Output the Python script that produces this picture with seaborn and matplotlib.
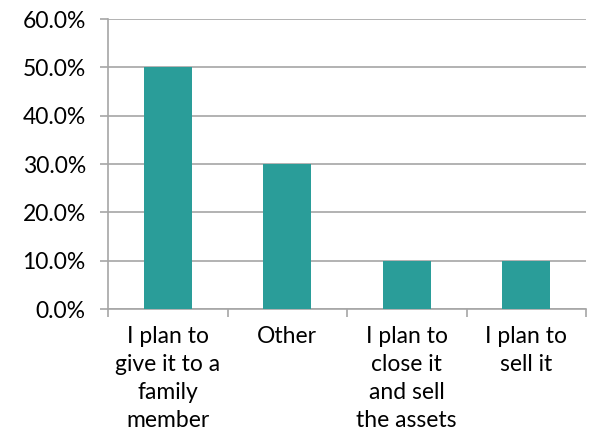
import matplotlib
matplotlib.use("Agg")
import matplotlib.pyplot as plt
import seaborn as sns
import pandas as pd
from matplotlib.ticker import PercentFormatter, FixedLocator

categories = [
    "I plan to\ngive it to a\nfamily\nmember",
    "Other",
    "I plan to\nclose it\nand sell\nthe assets",
    "I plan to\nsell it",
]
shares = [50.0, 30.0, 10.0, 10.0]
y_ticks = [0, 10, 20, 30, 40, 50, 60]

sns.set_theme(style="white")
plt.rcParams["font.family"] = ["Lato", "DejaVu Sans"]

df = pd.DataFrame({"answer": categories, "share": shares})

fig = plt.figure(figsize=(5.92, 4.36), dpi=100)
ax = fig.add_axes([108 / 592, 1 - 309 / 436, 478 / 592, 290 / 436])

sns.barplot(data=df, x="answer", y="share", color="#2a9d99", saturation=1,
            width=0.4, linewidth=0, ax=ax, zorder=3)

grid_c = "#a6a6a6"
ax.set_ylim(0, 60)
ax.set_xlim(-0.5, len(categories) - 0.5)
ax.yaxis.set_major_locator(FixedLocator(y_ticks))
ax.yaxis.set_major_formatter(PercentFormatter(decimals=1))
ax.grid(axis="y", color=grid_c, linewidth=1.2, zorder=0)
ax.set_axisbelow(True)

for side in ["top", "right"]:
    ax.spines[side].set_visible(False)
for side in ["left", "bottom"]:
    ax.spines[side].set_color(grid_c)
    ax.spines[side].set_linewidth(1.2)

ax.tick_params(axis="y", which="major", length=6, width=1.2, color=grid_c,
               labelsize=16.5, pad=10, left=True, labelcolor="black")
# category separators as minor ticks on the x axis
ax.xaxis.set_minor_locator(FixedLocator([-0.5, 0.5, 1.5, 2.5, 3.5]))
ax.tick_params(axis="x", which="minor", length=6, width=1.2, color=grid_c,
               bottom=True)
ax.tick_params(axis="x", which="major", length=0, labelsize=16.5, pad=12,
               labelcolor="black")
for lbl in ax.get_xticklabels():
    lbl.set_linespacing(1.42)

ax.set_xlabel("")
ax.set_ylabel("")

fig.savefig("out.png", dpi=100, facecolor="white")
